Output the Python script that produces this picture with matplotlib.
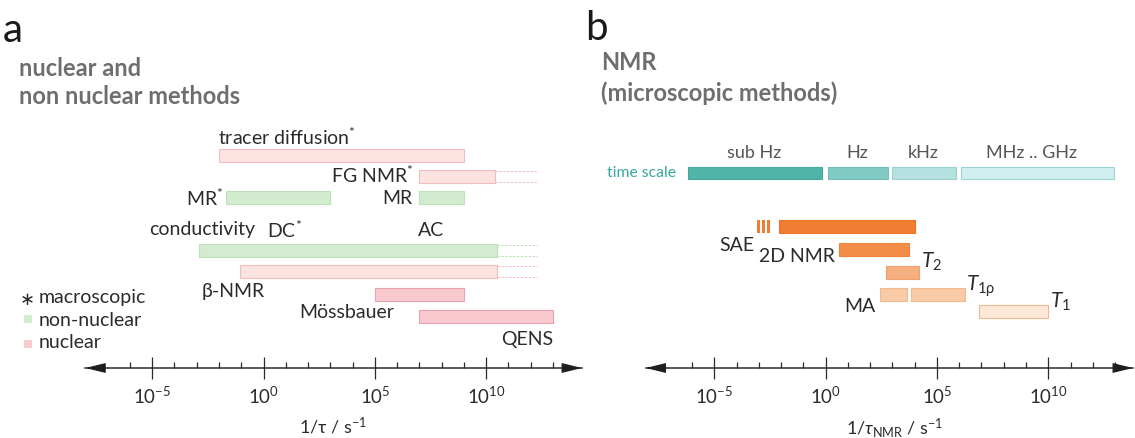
import matplotlib
matplotlib.use("Agg")
import matplotlib.pyplot as plt
from matplotlib.patches import Rectangle
from matplotlib.ticker import FixedLocator, FixedFormatter

plt.rcParams['font.family'] = ['Lato', 'DejaVu Sans']
plt.rcParams['mathtext.fontset'] = 'custom'
plt.rcParams['mathtext.rm'] = 'Lato'
plt.rcParams['mathtext.it'] = 'Lato:italic'
plt.rcParams['mathtext.bf'] = 'Lato:bold'

W, H = 1135, 438
AX_Y = 368  # pixel row of the frequency axis

# ---------------- data: panel a (log10 of 1/tau in s^-1) ----------------
a_methods = ['tracer diffusion', 'FG NMR', 'MR*', 'MR', 'conductivity',
             'beta-NMR', 'Mossbauer', 'QENS']
a_start = [-2.0, 7.0, -1.7, 7.0, -2.9, -1.05, 5.0, 7.0]
a_end = [9.0, 10.4, 3.0, 9.0, 10.5, 10.5, 9.0, 13.0]
a_ext_end = [None, 12.3, None, None, 12.3, 12.3, None, None]
a_kind = ['nuclear', 'nuclear', 'non-nuclear', 'non-nuclear', 'non-nuclear',
          'nuclear', 'nuclear-strong', 'nuclear-strong']

# ---------------- data: panel b ----------------
ts_labels = ['sub Hz', 'Hz', 'kHz', 'MHz .. GHz']
ts_start = [-6.2, 0.1, 3.0, 6.1]
ts_end = [-0.15, 2.8, 5.85, 12.95]

nmr_methods = ['SAE', '2D NMR', 'T2', 'MA (low)', 'MA / T1rho', 'T1']
nmr_start = [-2.08, 0.62, 2.7, 2.45, 3.85, 6.9]
nmr_end = [4.0, 3.73, 4.2, 3.65, 6.25, 10.0]
sae_dash_start = [-3.08, -2.86, -2.63]
sae_dash_end = [-2.95, -2.72, -2.50]

major_exp = [-5, 0, 5, 10]
major_labels = ['$\\mathregular{10^{-5}}$', '$\\mathregular{10^{0}}$',
                '$\\mathregular{10^{5}}$', '$\\mathregular{10^{10}}$']
minor_exp = [k for k in range(-6, 14) if k % 5 != 0]

# ---------------- layout / style ----------------
a_rows = [155, 176, 197.5, 197.5, 250, 271.5, 294, 316.5]
a_fill = {'nuclear': '#fde2e2', 'non-nuclear': '#d3ecd0', 'nuclear-strong': '#f9c9cf'}
a_edge = {'nuclear': '#f3bcbc', 'non-nuclear': '#bde0b9', 'nuclear-strong': '#e9a3ae'}
ts_row = 173
ts_fill = ['#50b4a9', '#80cac3', '#b5e1e0', '#d0eef0']
ts_edge = ['#45a89d', '#6fbfb8', '#98d3d2', '#9fd4d5']
nmr_rows = [226.5, 249, 272.5, 294.5, 294.5, 311]
nmr_fill = ['#f07d31', '#f38c47', '#f6af80', '#f9caa8', '#f9caa8', '#fde7d8']
nmr_edge = ['#ec7425', '#ef833c', '#f1a06c', '#f2b88e', '#f2b88e', '#f0b890']
BAR_H = 13
LAB = 14  # label font size

fig = plt.figure(figsize=(W / 100, H / 100), dpi=100)
fig.patch.set_facecolor('white')


def fx(px):
    return px / W


def fy(py):
    return 1 - py / H


def make_axis(left_px, right_px, zero_px, tip_lo, tip_hi):
    ppd = 22.27  # pixels per decade
    ax = fig.add_axes([fx(left_px), fy(AX_Y), (right_px - left_px) / W, AX_Y / H])
    ax.patch.set_alpha(0)
    ax.set_xscale('log')
    ax.set_xlim(10 ** ((left_px - zero_px) / ppd), 10 ** ((right_px - zero_px) / ppd))
    ax.set_ylim(AX_Y, 0)
    for s in ['top', 'left', 'right']:
        ax.spines[s].set_visible(False)
    ax.spines['bottom'].set_bounds(10 ** tip_lo, 10 ** tip_hi)
    ax.spines['bottom'].set_color('#2b2b2b')
    ax.spines['bottom'].set_linewidth(1.1)
    ax.yaxis.set_visible(False)
    ax.xaxis.set_major_locator(FixedLocator([10.0 ** e for e in major_exp]))
    ax.xaxis.set_major_formatter(FixedFormatter(major_labels))
    ax.xaxis.set_minor_locator(FixedLocator([10.0 ** e for e in minor_exp]))
    ax.tick_params(axis='x', which='major', direction='inout', length=16.5,
                   width=0.9, color='#2b2b2b', labelsize=13.5, pad=4.5,
                   labelcolor='#2b2b2b')
    ax.tick_params(axis='x', which='minor', direction='in', length=4.3,
                   width=0.9, color='#2b2b2b', labelbottom=False)
    for tip, back in [(tip_lo, tip_lo + 0.7), (tip_hi, tip_hi - 0.7)]:
        ax.annotate('', xy=(10 ** tip, AX_Y), xytext=(10 ** back, AX_Y),
                    xycoords='data', textcoords='data', annotation_clip=False,
                    arrowprops=dict(arrowstyle='-|>,head_length=0.9,head_width=0.22',
                                    color='#1e1e1e', lw=0.8, shrinkA=0, shrinkB=0,
                                    mutation_scale=14))
    return ax


# ======================= panel a =======================
axa = make_axis(0, 620, 263.5, -8.0, 14.3)
for i in range(len(a_methods)):
    k = a_kind[i]
    axa.barh(a_rows[i], 10 ** a_end[i] - 10 ** a_start[i], left=10 ** a_start[i],
             height=BAR_H, color=a_fill[k], edgecolor=a_edge[k], linewidth=0.8)
    if a_ext_end[i] is not None:
        for yy in (a_rows[i] - BAR_H / 2 + 1, a_rows[i] + BAR_H / 2 - 1):
            axa.hlines(yy, 10 ** a_end[i], 10 ** a_ext_end[i], colors=a_edge[k],
                       linestyles=(0, (2.5, 1.5)), linewidth=0.7)
axa.set_xlabel('1/τ / s$^{-1}$', fontsize=13, color='#2b2b2b')
axa.xaxis.set_label_coords(333 / 620, -(416 - AX_Y) / AX_Y)
axa.xaxis.label.set_va('top')

# ======================= panel b =======================
axb = make_axis(620, 1135, 825.6, -8.08, 13.8)
for i in range(len(ts_labels)):
    axb.barh(ts_row, 10 ** ts_end[i] - 10 ** ts_start[i], left=10 ** ts_start[i],
             height=12, color=ts_fill[i], edgecolor=ts_edge[i], linewidth=0.8)
for i in range(len(nmr_methods)):
    axb.barh(nmr_rows[i], 10 ** nmr_end[i] - 10 ** nmr_start[i], left=10 ** nmr_start[i],
             height=BAR_H, color=nmr_fill[i], edgecolor=nmr_edge[i], linewidth=0.8)
for s, e in zip(sae_dash_start, sae_dash_end):
    axb.barh(nmr_rows[0], 10 ** e - 10 ** s, left=10 ** s, height=BAR_H,
             color=nmr_fill[0], linewidth=0)
axb.set_xlabel('1/$τ_{\\mathregular{NMR}}$ / s$^{-1}$', fontsize=13, color='#2b2b2b')
axb.xaxis.set_label_coords((895 - 620) / 515, -(416 - AX_Y) / AX_Y)
axb.xaxis.label.set_va('top')


# ---------------- text ----------------
def t(x, y, s, **kw):
    kw.setdefault('color', '#2b2b2b')
    kw.setdefault('fontsize', LAB)
    kw.setdefault('va', 'center')
    return fig.text(fx(x), fy(y), s, **kw)


t(3, 30, 'a', fontsize=29, color='#1a1a1a')
t(585, 28, 'b', fontsize=29, color='#1a1a1a')
TT = dict(fontsize=17, fontweight='bold', color='#6e6e6e')
t(19, 68, 'nuclear and', **TT)
t(19, 97, 'non nuclear methods', **TT)
t(601, 63, 'NMR', **TT)
t(601, 93, '(microscopic methods)', **TT)

AST = '$\\mathregular{^{*}}$'
t(218, 137, 'tracer diffusion' + AST)
t(414, 175, 'FG NMR' + AST, ha='right')
t(224, 198, 'MR' + AST, ha='right')
t(412, 198, 'MR', ha='right')
t(149, 230, 'conductivity')
t(267, 230, 'DC' + AST)
t(418, 231, 'AC')
t(202, 292, 'β-NMR')
t(299, 312, 'Mössbauer')
t(553, 340, 'QENS', ha='right')

# legend of panel a
t(20, 300, '∗', fontsize=13)
t(39, 298, 'macroscopic')
fig.patches.append(Rectangle((fx(24), fy(323)), 8 / W, 8 / H, transform=fig.transFigure,
                             facecolor=a_fill['non-nuclear'], edgecolor='none'))
t(39, 321, 'non-nuclear')
fig.patches.append(Rectangle((fx(24), fy(348)), 8 / W, 8 / H, transform=fig.transFigure,
                             facecolor=a_fill['nuclear-strong'], edgecolor='none'))
t(39, 342, 'nuclear')

# panel b labels
t(676, 173, 'time scale', ha='right', fontsize=11.3, color='#3aa89c')
for lab, cx in zip(ts_labels, [754, 857, 923, 1032]):
    t(cx, 153, lab, ha='center', fontsize=13, color='#555555')
t(754, 245, 'SAE', ha='right')
t(835, 257, '2D NMR', ha='right')
t(921, 262, '$\\mathit{T}_{\\mathregular{2}}$', fontsize=15)
t(966, 286, '$\\mathit{T}_{\\mathregular{1ρ}}$', fontsize=15)
t(876, 307, 'MA', ha='right')
t(1050, 302, '$\\mathit{T}_{\\mathregular{1}}$', fontsize=15)

fig.savefig('out.png', dpi=100, facecolor='white')
